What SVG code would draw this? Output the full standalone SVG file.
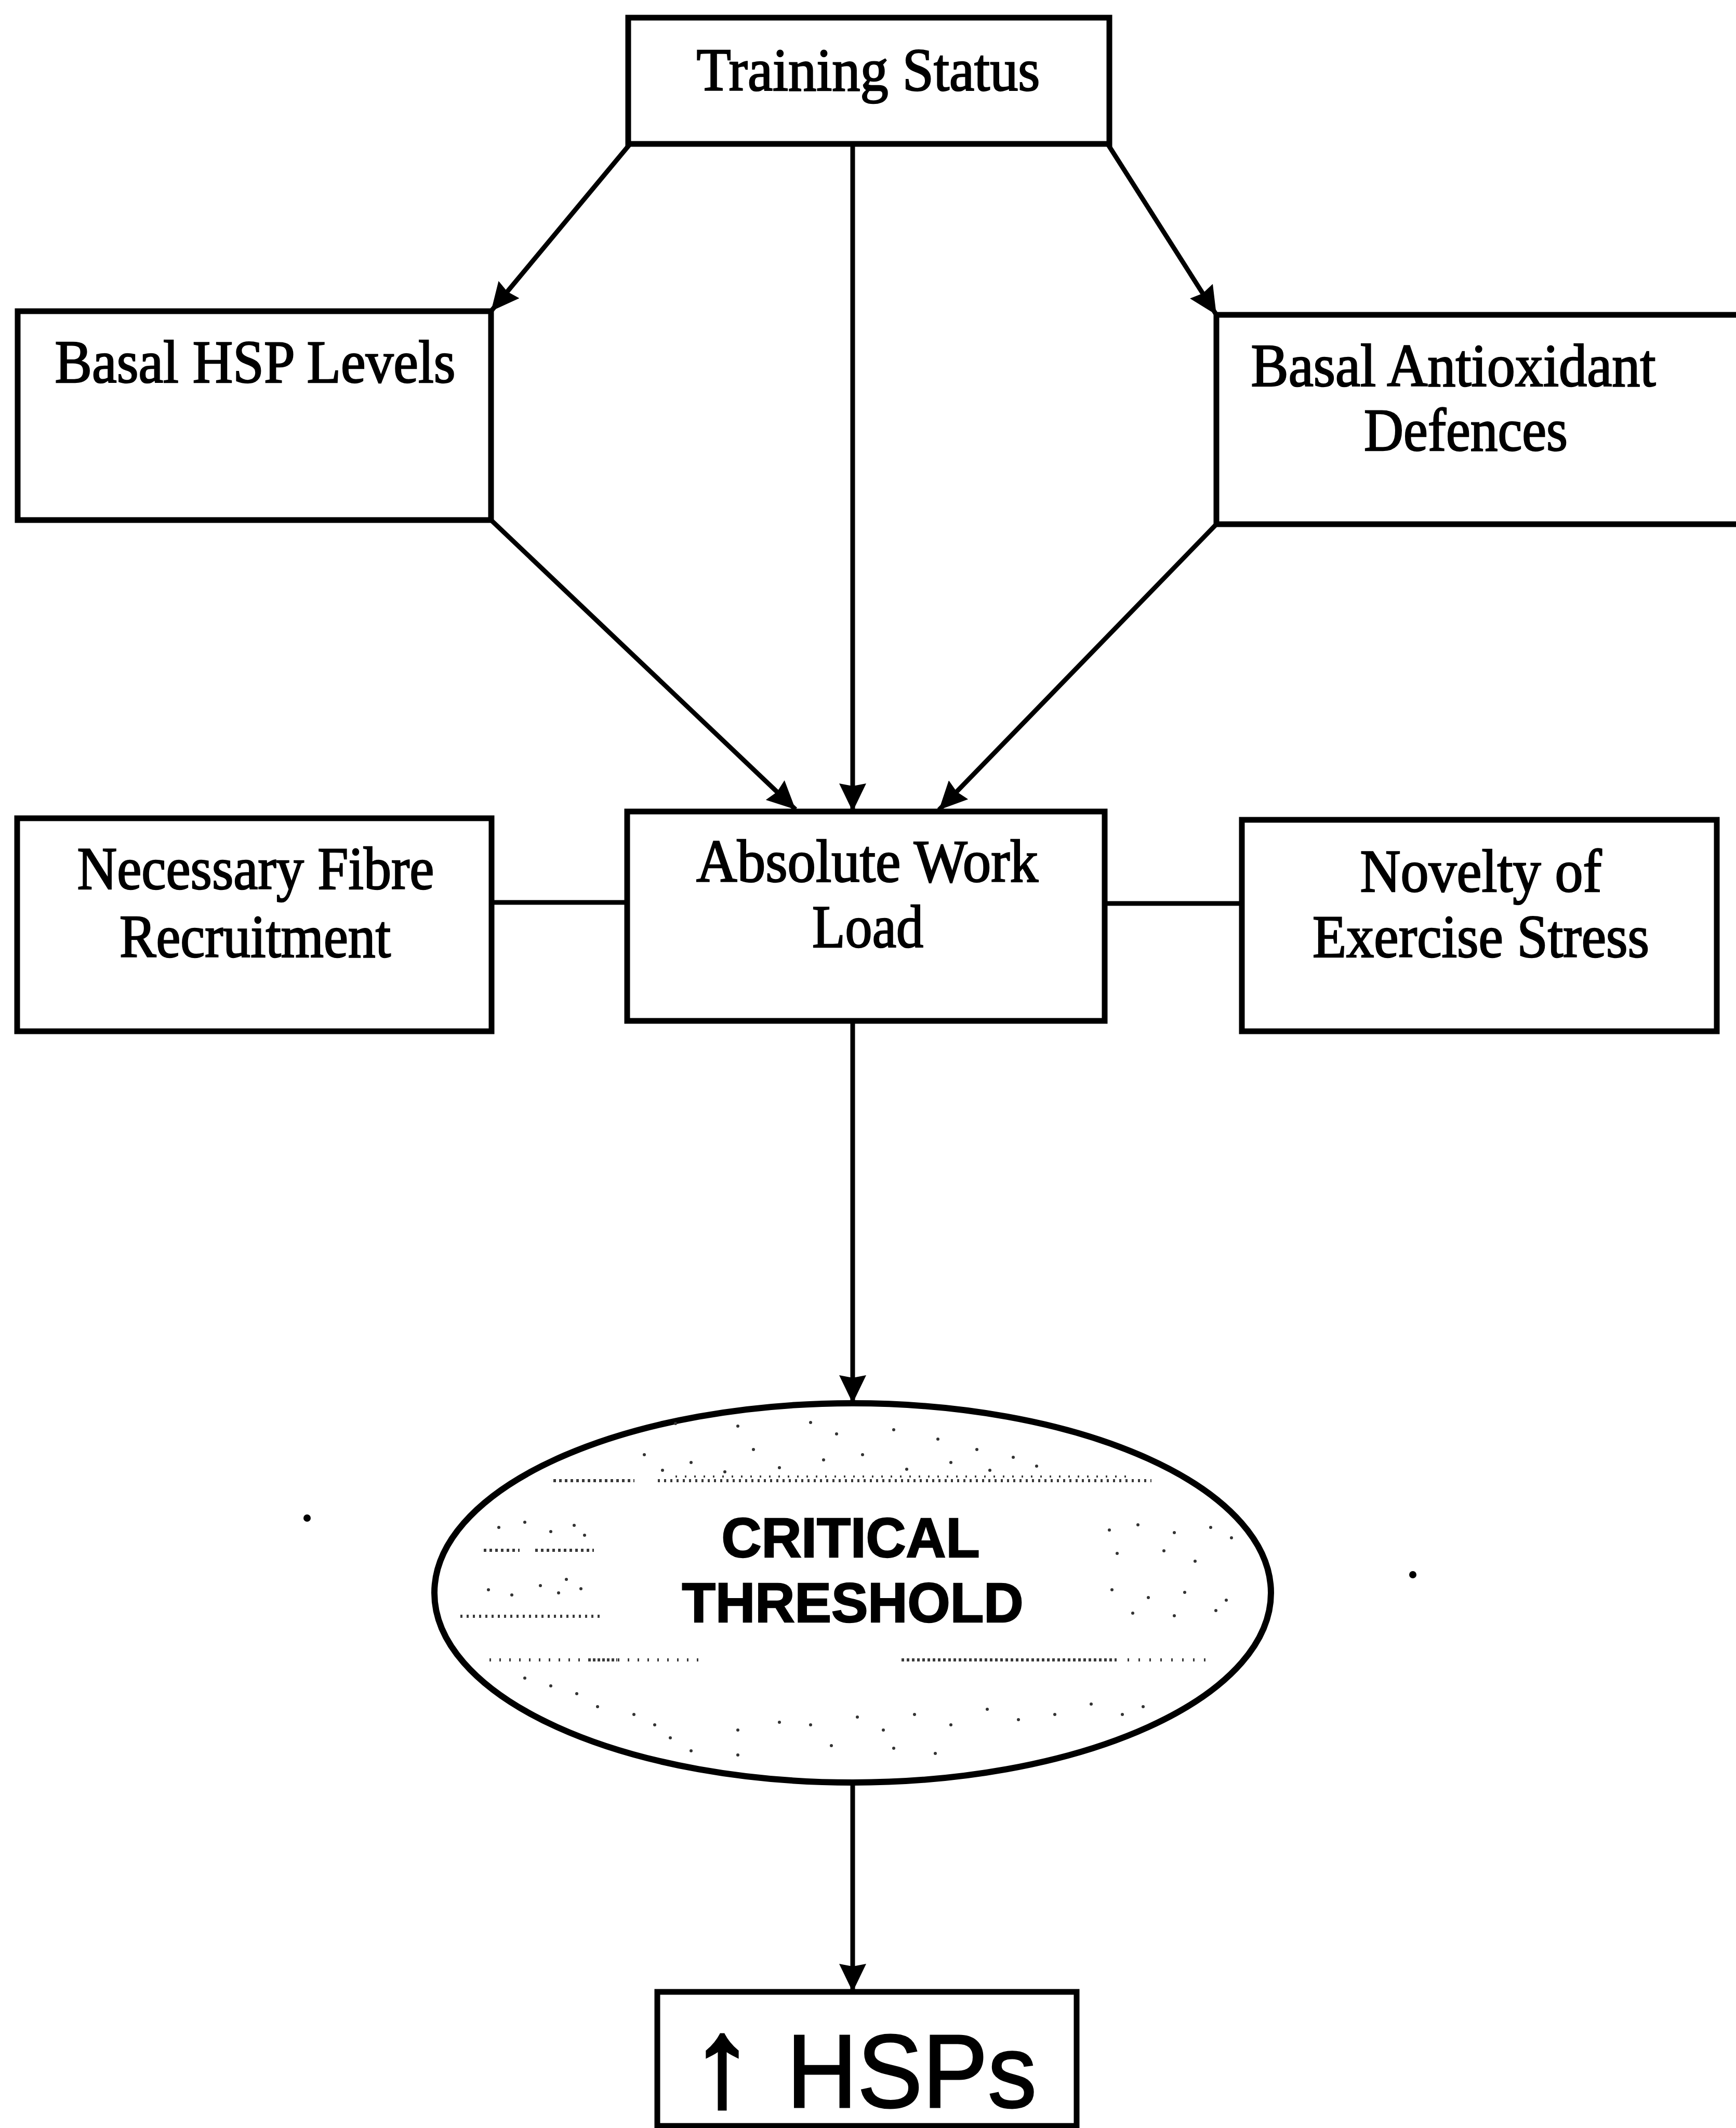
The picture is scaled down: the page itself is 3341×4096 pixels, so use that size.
<svg xmlns="http://www.w3.org/2000/svg" width="3341" height="4096" viewBox="0 0 3341 4096">
  <style>
    .box{fill:#fff;stroke:#000;stroke-width:11}
    .lbl{font-family:"Liberation Serif","Times New Roman",serif;font-size:116px;text-anchor:middle;fill:#000;stroke:#000;stroke-width:2.5}
    .bold{font-family:"Liberation Sans",Arial,sans-serif;font-weight:bold;font-size:108px;text-anchor:middle;fill:#000;stroke:#000;stroke-width:2.5}
    .sans{font-family:"Liberation Sans",Arial,sans-serif;font-size:200px;fill:#000;stroke:#000;stroke-width:3}
    .up{font-size:240px;stroke-width:7;text-anchor:middle}
    .conn{stroke:#000;stroke-width:9;fill:none}
    .grain{stroke:#3a3a3a;stroke-width:6;fill:none}
    .spk{fill:#333}
  </style>
  <defs>
    <marker id="arrow" markerUnits="userSpaceOnUse" viewBox="0 0 54 52" markerWidth="54" markerHeight="52" refX="54" refY="26" orient="auto">
      <path d="M0,0 L54,26 L0,52 L5,26 Z" fill="#000"/>
    </marker>
  </defs>

  <rect x="0" y="0" width="3341" height="4096" fill="#fff"/>

  <!-- nodes -->
  <g id="training-status">
    <rect class="box" x="1209" y="34" width="926" height="243"/>
    <text class="lbl" x="1671" y="174" textLength="661" lengthAdjust="spacingAndGlyphs">Training Status</text>
  </g>

  <g id="basal-hsp">
    <rect class="box" x="34" y="599" width="911" height="402"/>
    <text class="lbl" x="491" y="736" textLength="771" lengthAdjust="spacingAndGlyphs">Basal HSP Levels</text>
  </g>

  <g id="basal-antioxidant">
    <rect class="box" x="2341" y="606" width="1050" height="403"/>
    <text class="lbl" x="2797" y="743" textLength="779" lengthAdjust="spacingAndGlyphs">Basal Antioxidant</text>
    <text class="lbl" x="2821" y="867" textLength="392" lengthAdjust="spacingAndGlyphs">Defences</text>
  </g>

  <g id="fibre-recruitment">
    <rect class="box" x="33" y="1575" width="913" height="410"/>
    <text class="lbl" x="492" y="1711" textLength="687" lengthAdjust="spacingAndGlyphs">Necessary Fibre</text>
    <text class="lbl" x="491" y="1842" textLength="522" lengthAdjust="spacingAndGlyphs">Recruitment</text>
  </g>

  <g id="absolute-work-load">
    <rect class="box" x="1207" y="1562" width="919" height="403"/>
    <text class="lbl" x="1669" y="1697" textLength="658" lengthAdjust="spacingAndGlyphs">Absolute Work</text>
    <text class="lbl" x="1670" y="1823" textLength="214" lengthAdjust="spacingAndGlyphs">Load</text>
  </g>

  <g id="exercise-novelty">
    <rect class="box" x="2390" y="1578" width="914" height="407"/>
    <text class="lbl" x="2850" y="1716" textLength="465" lengthAdjust="spacingAndGlyphs">Novelty of</text>
    <text class="lbl" x="2850" y="1842" textLength="648" lengthAdjust="spacingAndGlyphs">Exercise Stress</text>
  </g>

  <g id="critical-threshold">
    <ellipse cx="1641" cy="3066" rx="805" ry="365" fill="#fff" stroke="#000" stroke-width="12"/>
    <!-- halftone grain left in the fill -->
    <g class="grain">
      <line x1="1065" y1="2850" x2="1221" y2="2850" stroke-dasharray="5 6"/>
      <line x1="1266" y1="2850" x2="2216" y2="2850" stroke-dasharray="4 8"/>
      <line x1="1300" y1="2842" x2="2180" y2="2842" stroke-dasharray="3 15" stroke-width="4"/>
      <line x1="931" y1="2984" x2="1000" y2="2984" stroke-dasharray="5 6"/>
      <line x1="1030" y1="2984" x2="1143" y2="2984" stroke-dasharray="5 6"/>
      <line x1="886" y1="3111" x2="1155" y2="3111" stroke-dasharray="4 8"/>
      <line x1="1735" y1="3195" x2="2149" y2="3195" stroke-dasharray="5 5"/>
      <line x1="2170" y1="3195" x2="2327" y2="3195" stroke-dasharray="3 18"/>
      <line x1="942" y1="3195" x2="1355" y2="3195" stroke-dasharray="3 16"/>
      <line x1="1132" y1="3195" x2="1188" y2="3195" stroke-dasharray="5 4"/>
    </g>
    <g class="spk">
      <circle cx="1300" cy="2740" r="3"/><circle cx="1420" cy="2745" r="3"/><circle cx="1560" cy="2738" r="3"/>
      <circle cx="1610" cy="2760" r="3"/><circle cx="1720" cy="2752" r="3"/><circle cx="1805" cy="2770" r="3"/>
      <circle cx="1880" cy="2790" r="3"/><circle cx="1950" cy="2805" r="3"/><circle cx="1240" cy="2800" r="3"/>
      <circle cx="1330" cy="2815" r="3"/><circle cx="1450" cy="2790" r="3"/><circle cx="1500" cy="2825" r="3"/>
      <circle cx="1585" cy="2810" r="3"/><circle cx="1660" cy="2800" r="3"/><circle cx="1745" cy="2828" r="3"/>
      <circle cx="1830" cy="2815" r="3"/><circle cx="1905" cy="2830" r="3"/><circle cx="1995" cy="2822" r="3"/>
      <circle cx="1275" cy="2830" r="3"/><circle cx="1395" cy="2833" r="3"/>
      <circle cx="960" cy="2940" r="3"/><circle cx="1010" cy="2930" r="3"/><circle cx="1060" cy="2948" r="3"/>
      <circle cx="1105" cy="2936" r="3"/><circle cx="1125" cy="2955" r="3"/><circle cx="940" cy="3060" r="3"/>
      <circle cx="985" cy="3070" r="3"/><circle cx="1040" cy="3052" r="3"/><circle cx="1075" cy="3066" r="3"/>
      <circle cx="1118" cy="3058" r="3"/><circle cx="1090" cy="3040" r="3"/>
      <circle cx="2135" cy="2945" r="3"/><circle cx="2190" cy="2935" r="3"/><circle cx="2260" cy="2950" r="3"/>
      <circle cx="2330" cy="2940" r="3"/><circle cx="2370" cy="2960" r="3"/><circle cx="2150" cy="2990" r="3"/>
      <circle cx="2240" cy="2985" r="3"/><circle cx="2300" cy="3005" r="3"/><circle cx="2140" cy="3060" r="3"/>
      <circle cx="2210" cy="3075" r="3"/><circle cx="2280" cy="3065" r="3"/><circle cx="2360" cy="3080" r="3"/>
      <circle cx="2180" cy="3105" r="3"/><circle cx="2260" cy="3110" r="3"/><circle cx="2340" cy="3100" r="3"/>
      <circle cx="1010" cy="3230" r="3"/><circle cx="1060" cy="3245" r="3"/><circle cx="1110" cy="3260" r="3"/>
      <circle cx="1150" cy="3285" r="3"/><circle cx="1220" cy="3300" r="3"/><circle cx="1260" cy="3320" r="3"/>
      <circle cx="1290" cy="3345" r="3"/><circle cx="1330" cy="3370" r="3"/><circle cx="1420" cy="3330" r="3"/>
      <circle cx="1500" cy="3315" r="3"/><circle cx="1560" cy="3320" r="3"/><circle cx="1650" cy="3305" r="3"/>
      <circle cx="1700" cy="3330" r="3"/><circle cx="1760" cy="3300" r="3"/><circle cx="1830" cy="3320" r="3"/>
      <circle cx="1900" cy="3290" r="3"/><circle cx="1960" cy="3310" r="3"/><circle cx="2030" cy="3300" r="3"/>
      <circle cx="2100" cy="3280" r="3"/><circle cx="2160" cy="3300" r="3"/><circle cx="2200" cy="3285" r="3"/>
      <circle cx="1600" cy="3360" r="3"/><circle cx="1720" cy="3365" r="3"/><circle cx="1800" cy="3375" r="3"/>
      <circle cx="1420" cy="3378" r="3"/>
    </g>
    <text class="bold" x="1637" y="2997" textLength="497" lengthAdjust="spacingAndGlyphs">CRITICAL</text>
    <text class="bold" x="1641" y="3122" textLength="657" lengthAdjust="spacingAndGlyphs">THRESHOLD</text>
  </g>

  <g id="hsps">
    <rect class="box" x="1265" y="3834" width="807" height="258"/>
    <text class="sans up" x="1390" y="4052">↑</text>
    <text class="sans" x="1514" y="4056" textLength="481" lengthAdjust="spacingAndGlyphs">HSPs</text>
  </g>

  <!-- stray marks beside the threshold -->
  <g id="marks" fill="#000">
    <circle cx="591" cy="2922" r="7"/>
    <circle cx="2719" cy="3031" r="7"/>
  </g>

  <!-- connectors -->
  <g id="connectors" class="conn">
    <line x1="1211" y1="279" x2="945" y2="599" marker-end="url(#arrow)"/>
    <line x1="1641" y1="279" x2="1641" y2="1562" marker-end="url(#arrow)"/>
    <line x1="2133" y1="279" x2="2341" y2="606" marker-end="url(#arrow)"/>
    <line x1="945" y1="1001" x2="1531" y2="1558" marker-end="url(#arrow)"/>
    <line x1="2341" y1="1009" x2="1807" y2="1559" marker-end="url(#arrow)"/>
    <line x1="946" y1="1737" x2="1207" y2="1737"/>
    <line x1="2126" y1="1739" x2="2390" y2="1739"/>
    <line x1="1641" y1="1965" x2="1641" y2="2701" marker-end="url(#arrow)"/>
    <line x1="1641" y1="3431" x2="1641" y2="3834" marker-end="url(#arrow)"/>
  </g>
</svg>
